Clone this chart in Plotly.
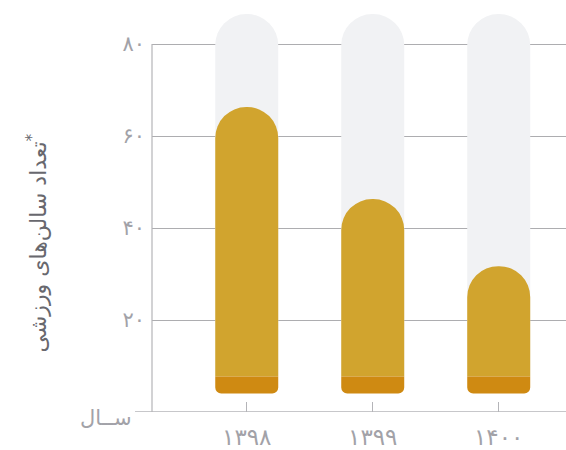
import plotly.graph_objects as go

# Years (Solar Hijri) and number of sports halls
years = ["۱۳۹۸", "۱۳۹۹", "۱۴۰۰"]
halls = [66.3, 46.3, 31.7]

# Y-axis ticks in Persian digits
y_tickvals = [20, 40, 60, 80]
y_ticktext = ["۲۰", "۴۰", "۶۰", "۸۰"]

# Track (background pill), bar foot and darker foot band
track_top = 86.5
bar_base = 4
band_top = 7.7

GOLD = "#d1a42e"
AMBER = "#cf8a12"
TRACK = "#f1f2f4"
AXIS = "#b4b4b8"
LABEL = "#a2a2a8"

Y_MAX = 89.57
x = list(range(len(years)))

fig = go.Figure()

# Each bar layer sits on its own hidden axis whose zero is the top of the
# foot band, so every layer is rounded independently at its far end only.
layers = [
    ("y2", [track_top - band_top] * len(x), TRACK, "50%"),
    ("y3", [v - band_top for v in halls], GOLD, "50%"),
    ("y4", [bar_base - band_top] * len(x), AMBER, 6),
]
for axis, vals, color, radius in layers:
    fig.add_trace(go.Bar(
        x=x, y=vals, yaxis=axis, width=0.5,
        marker=dict(color=color, cornerradius=radius, line=dict(width=0)),
        hoverinfo="skip", showlegend=False,
    ))

hidden = dict(overlaying="y", visible=False,
              range=[-band_top, Y_MAX - band_top])

fig.update_layout(
    width=566, height=450,
    margin=dict(l=152, r=0, t=0, b=38),
    barmode="overlay",
    paper_bgcolor="white", plot_bgcolor="white",
    font=dict(family="DejaVu Sans", color=LABEL),
    xaxis=dict(
        range=[-0.752, 2.534], tickvals=x, ticktext=years,
        ticks="inside", ticklen=10, tickcolor=AXIS, tickwidth=1.2,
        showgrid=False, zeroline=False, showline=False, automargin=False,
        tickfont=dict(size=23, color=LABEL), ticklabelstandoff=9,
    ),
    yaxis=dict(
        range=[0, Y_MAX], tickvals=y_tickvals, ticktext=y_ticktext,
        showgrid=True, gridcolor="#adadb0", gridwidth=1,
        zeroline=False, showline=False, ticks="", automargin=False,
        tickfont=dict(size=21, color=LABEL), ticklabelstandoff=6,
    ),
    yaxis2=hidden, yaxis3=hidden, yaxis4=hidden,
    shapes=[
        # vertical axis line from 0 to 80
        dict(type="line", xref="paper", yref="y", x0=0, x1=0, y0=0, y1=80,
             line=dict(color=AXIS, width=1.2), layer="above"),
        # baseline, reaching a little left of the vertical axis
        dict(type="line", xref="paper", yref="y", x0=-0.041, x1=1, y0=0, y1=0,
             line=dict(color=AXIS, width=1.5), layer="above"),
    ],
    annotations=[
        dict(text="ســال", xref="paper", yref="y", x=-0.043, y=0,
             xanchor="right", yanchor="middle", showarrow=False,
             font=dict(size=21, color=LABEL), yshift=-6),
        dict(text="تعداد سالن‌های ورزشی<sup>*</sup>", textangle=-90,
             xref="paper", yref="paper", x=-0.277, y=0.41,
             xanchor="center", yanchor="middle", showarrow=False,
             font=dict(size=22, color="#68686e")),
    ],
)

fig.write_html("out.html")
